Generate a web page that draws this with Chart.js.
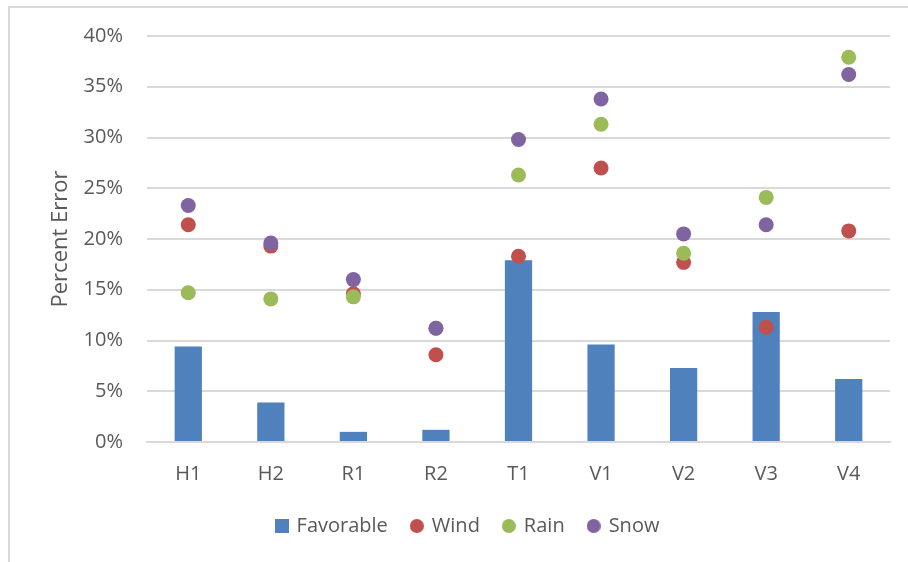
<!DOCTYPE html>
<html>
<head>
<meta charset="utf-8">
<script src="https://cdn.jsdelivr.net/npm/chart.js@4/dist/chart.umd.min.js"></script>
<style>
  html, body { margin: 0; padding: 0; background: #fff; }
  #wrap { position: relative; width: 908px; height: 562px; overflow: hidden; }
  #frame { position: absolute; left: 8px; top: 6px; width: 960px; height: 620px;
           border: 2px solid #d9d9d9; box-sizing: border-box; }
  canvas { position: absolute; left: 0; top: 0; }
</style>
</head>
<body>
<div id="wrap">
  <div id="frame"></div>
  <canvas id="c" width="908" height="562"></canvas>
</div>
<script>
// Sites
const categories = ['H1', 'H2', 'R1', 'R2', 'T1', 'V1', 'V2', 'V3', 'V4'];

// Percent error by weather condition
const favorable = [9.4, 3.9, 1.0, 1.2, 17.9, 9.6, 7.3, 12.8, 6.2];
const wind      = [21.4, 19.3, 14.6, 8.6, 18.3, 27.0, 17.7, 11.3, 20.8];
const rain      = [14.7, 14.1, 14.3, 11.2, 26.3, 31.3, 18.6, 24.1, 37.9];
const snow      = [23.3, 19.6, 16.0, 11.2, 29.8, 33.8, 20.5, 21.4, 36.2];

const yTicks = [0, 5, 10, 15, 20, 25, 30, 35, 40];

const textColor = '#595959';
const fontFamily = '"Open Sans", "Liberation Sans", sans-serif';

// Small legend markers: a square for the bars, round dots for the point series
function legendIcon(shape, color) {
  const size = 14;
  const cv = document.createElement('canvas');
  cv.width = size; cv.height = size;
  const g = cv.getContext('2d');
  g.fillStyle = color;
  if (shape === 'rect') {
    g.fillRect(0, 0, size, size);
  } else {
    g.beginPath();
    g.arc(size / 2, size / 2, size / 2, 0, Math.PI * 2);
    g.fill();
  }
  return cv;
}

function dotSeries(label, values, color, order) {
  return {
    type: 'line', label, data: values, order,
    showLine: false,
    pointStyle: 'circle',
    pointRadius: 7.5, pointHoverRadius: 7.5,
    pointBackgroundColor: color, pointBorderColor: color, pointBorderWidth: 0,
    backgroundColor: color, borderColor: color
  };
}

// Keeps the legend centred on the whole canvas width rather than the layout box
const legendShift = {
  id: 'legendShift',
  afterLayout(chart) {
    const lg = chart.legend;
    if (!lg) return;
    const dx = 23;
    lg.left += dx; lg.right += dx;
    if (lg.legendHitBoxes) lg.legendHitBoxes.forEach(b => { b.left += dx; });
  }
};

new Chart(document.getElementById('c'), {
  type: 'bar',
  data: {
    labels: categories,
    datasets: [
      { label: 'Favorable', data: favorable, order: 4,
        backgroundColor: '#4f81bd', borderWidth: 0,
        categoryPercentage: 1, barPercentage: 0.33, pointStyle: 'rect' },
      dotSeries('Wind', wind, '#c0504d', 3),
      dotSeries('Rain', rain, '#9bbb59', 2),
      dotSeries('Snow', snow, '#8064a2', 1)
    ]
  },
  plugins: [legendShift],
  options: {
    responsive: false,
    animation: false,
    devicePixelRatio: 1,
    layout: { padding: { left: 0, right: 18, top: 36, bottom: 16 } },
    plugins: {
      tooltip: { enabled: false },
      legend: {
        position: 'bottom',
        labels: {
          sort: (a, b) => a.datasetIndex - b.datasetIndex,
          generateLabels: chart => {
            const items = Chart.defaults.plugins.legend.labels.generateLabels(chart);
            items.forEach(it => {
              const ds = chart.data.datasets[it.datasetIndex];
              it.pointStyle = legendIcon(ds.type === 'line' ? 'circle' : 'rect', ds.backgroundColor);
            });
            return items;
          },
          usePointStyle: true,
          pointStyleWidth: 10,
          boxWidth: 13, boxHeight: 13,
          padding: 24,
          color: textColor,
          font: { family: fontFamily, size: 20 }
        }
      }
    },
    scales: {
      x: {
        offset: true,
        grid: { display: false, drawTicks: false },
        border: { display: true, color: '#d9d9d9', width: 2 },
        ticks: { color: textColor, padding: 20, font: { family: fontFamily, size: 20 } },
        afterFit: s => { s.height = 50; }
      },
      y: {
        min: 0, max: 40,
        afterBuildTicks: s => { s.ticks = yTicks.map(v => ({ value: v })); },
        grid: { color: '#d9d9d9', lineWidth: 2, drawTicks: false },
        border: { display: false },
        ticks: {
          color: textColor, padding: 24,
          font: { family: fontFamily, size: 20 },
          callback: v => v + '%'
        },
        title: {
          display: true, text: 'Percent Error', color: textColor,
          font: { family: fontFamily, size: 22 },
          padding: { top: 48, bottom: 0 }
        },
        afterFit: s => { s.width = 147; }
      }
    }
  }
});
</script>
</body>
</html>
